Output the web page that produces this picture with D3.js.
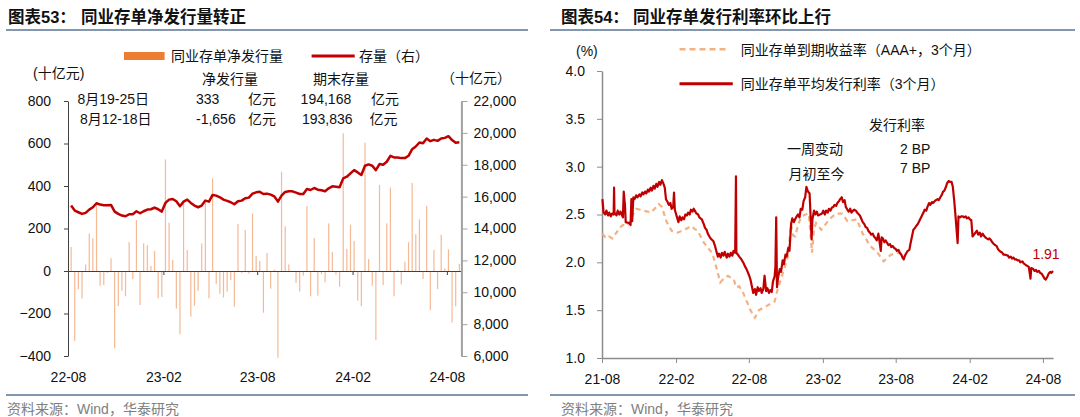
<!DOCTYPE html>
<html><head><meta charset="utf-8">
<script src="https://cdn.jsdelivr.net/npm/d3@7"></script>
<style>
html,body{margin:0;padding:0;background:#fff;}
svg{display:block;}
text{font-family:"Liberation Sans","Noto Sans CJK SC",sans-serif;}
</style></head><body>
<svg id="c" width="1080" height="417"></svg>
<script>
// ===== Left chart data (weekly, 十亿元) =====
const weekFirst = new Date(2022, 7, 7);   // first week-ending Sunday
const weekStop = new Date(2024, 7, 26);
const netIssuance = [
 113, -329, -85, -129, 31, 176, 154, 318, -69, -66,
 -9, 60, -364, -165, -93, -119, 136, -38, 240, -160,
 130, 121, 24, 94, -129, -122, 525, 227, 52, -177,
 -298, 318, 99, -215, -163, -93, 130, 323, -129, 436,
 -61, -107, -125, -97, -42, -168, 221, -9, 193, -13,
 271, 71,
 47, -196, 85, -83, 6, -408, 467, 210, 31, -5,
 -56, -97, -22, 306, -119, 155, -116, -14, -53, 224,
 89, -17, -74, 648, 104, 218, 141, -140, -166, 604,
 56, -69, -325, 405, -66, 224, 392, -119, 5, -63,
 44, 135, 414, 173, 243, -38, 307, -185, 100, -85,
 171, 12, 102, -242, -166, 33];
const outstanding = [
 15437, 15125, 15020, 14917, 14979, 15187, 15333, 15583, 15500, 15458,
 15458, 15479, 15062, 14917, 14812, 14770, 14896, 14896, 15083, 14958,
 15083, 15187, 15208, 15312, 15208, 15062, 15604, 15812, 15854, 15708,
 15395, 15687, 15812, 15604, 15437, 15333, 15437, 15750, 15687, 16104,
 16062, 15958, 15812, 15729, 15646, 15521, 15708, 15750, 15896, 15937,
 16187, 16270,
 16300, 16166, 16187, 16125, 16020, 15687, 16062, 16291, 16333, 16333,
 16250, 16166, 16166, 16479, 16416, 16541, 16437, 16395, 16333, 16520,
 16645, 16625, 16583, 17145, 17250, 17458, 17666, 17520, 17354, 17937,
 18020, 17937, 17666, 18041, 18000, 18187, 18562, 18458, 18458, 18416,
 18416, 18562, 18979, 19145, 19395, 19354, 19645, 19479, 19562, 19500,
 19645, 19687, 19792,
 19550, 19384, 19417];
const leftYTicks = [-400, -200, 0, 200, 400, 600, 800];
const rightYTicks = [6000, 8000, 10000, 12000, 14000, 16000, 18000, 20000, 22000];
const leftXTicks = ["2022-08-01", "2023-02-01", "2023-08-01", "2024-02-01", "2024-08-01"];

// ===== Right chart data (%) =====
const issueDates = ["2021-08-02","2021-08-05","2021-08-09","2021-08-12","2021-08-16","2021-08-19","2021-08-23","2021-08-26","2021-08-30","2021-08-31","2021-09-01","2021-09-06","2021-09-09","2021-09-13","2021-09-16","2021-09-22","2021-09-24","2021-09-27","2021-09-29","2021-10-08","2021-10-11","2021-10-13","2021-10-15","2021-10-18","2021-10-21","2021-10-25","2021-10-28","2021-11-02","2021-11-05","2021-11-09","2021-11-12","2021-11-16","2021-11-19","2021-11-23","2021-11-26","2021-11-30","2021-12-03","2021-12-07","2021-12-10","2021-12-14","2021-12-17","2021-12-21","2021-12-24","2021-12-28","2021-12-31","2022-01-04","2022-01-07","2022-01-11","2022-01-14","2022-01-18","2022-01-21","2022-01-25","2022-01-27","2022-01-29","2022-02-07","2022-02-10","2022-02-14","2022-02-17","2022-02-21","2022-02-24","2022-02-28","2022-03-03","2022-03-07","2022-03-10","2022-03-14","2022-03-17","2022-03-21","2022-03-24","2022-03-28","2022-03-31","2022-04-06","2022-04-11","2022-04-14","2022-04-18","2022-04-21","2022-04-25","2022-04-28","2022-05-05","2022-05-09","2022-05-12","2022-05-16","2022-05-19","2022-05-23","2022-05-26","2022-05-30","2022-06-02","2022-06-07","2022-06-10","2022-06-14","2022-06-17","2022-06-21","2022-06-24","2022-06-28","2022-06-30","2022-07-01","2022-07-05","2022-07-08","2022-07-12","2022-07-15","2022-07-19","2022-07-22","2022-07-26","2022-07-29","2022-08-02","2022-08-05","2022-08-09","2022-08-12","2022-08-16","2022-08-19","2022-08-23","2022-08-26","2022-08-30","2022-09-02","2022-09-06","2022-09-09","2022-09-13","2022-09-16","2022-09-20","2022-09-23","2022-09-27","2022-09-30","2022-10-04","2022-10-06","2022-10-08","2022-10-10","2022-10-13","2022-10-17","2022-10-20","2022-10-24","2022-10-27","2022-10-31","2022-11-03","2022-11-07","2022-11-10","2022-11-14","2022-11-17","2022-11-21","2022-11-24","2022-11-28","2022-12-01","2022-12-05","2022-12-08","2022-12-12","2022-12-15","2022-12-19","2022-12-22","2022-12-26","2022-12-30","2023-01-04","2023-01-06","2023-01-10","2023-01-13","2023-01-17","2023-01-20","2023-01-30","2023-02-02","2023-02-06","2023-02-09","2023-02-13","2023-02-16","2023-02-20","2023-02-23","2023-02-27","2023-03-02","2023-03-06","2023-03-09","2023-03-13","2023-03-16","2023-03-20","2023-03-23","2023-03-27","2023-03-30","2023-04-03","2023-04-06","2023-04-10","2023-04-13","2023-04-17","2023-04-20","2023-04-24","2023-04-27","2023-05-04","2023-05-08","2023-05-11","2023-05-15","2023-05-18","2023-05-22","2023-05-25","2023-05-29","2023-06-01","2023-06-05","2023-06-08","2023-06-12","2023-06-15","2023-06-19","2023-06-21","2023-06-25","2023-06-27","2023-06-30","2023-07-04","2023-07-07","2023-07-11","2023-07-14","2023-07-18","2023-07-21","2023-07-25","2023-07-28","2023-08-01","2023-08-04","2023-08-08","2023-08-11","2023-08-15","2023-08-18","2023-08-21","2023-08-24","2023-08-28","2023-08-31","2023-09-04","2023-09-07","2023-09-11","2023-09-14","2023-09-18","2023-09-21","2023-09-25","2023-10-09","2023-10-12","2023-10-16","2023-10-19","2023-10-23","2023-10-26","2023-10-30","2023-11-02","2023-11-06","2023-11-09","2023-11-13","2023-11-16","2023-11-20","2023-11-23","2023-11-27","2023-11-30","2023-12-04","2023-12-07","2023-12-11","2023-12-14","2023-12-18","2023-12-21","2023-12-25","2023-12-27","2024-01-02","2024-01-04","2024-01-08","2024-01-11","2024-01-15","2024-01-18","2024-01-22","2024-01-25","2024-01-29","2024-02-01","2024-02-05","2024-02-08","2024-02-19","2024-02-22","2024-02-26","2024-02-29","2024-03-04","2024-03-07","2024-03-11","2024-03-14","2024-03-18","2024-03-21","2024-03-25","2024-03-28","2024-04-01","2024-04-08","2024-04-11","2024-04-15","2024-04-18","2024-04-22","2024-04-25","2024-04-29","2024-05-06","2024-05-09","2024-05-13","2024-05-16","2024-05-20","2024-05-23","2024-05-27","2024-05-30","2024-06-03","2024-06-06","2024-06-11","2024-06-14","2024-06-17","2024-06-20","2024-06-24","2024-06-27","2024-07-01","2024-07-03","2024-07-08","2024-07-11","2024-07-15","2024-07-18","2024-07-22","2024-07-25","2024-07-29","2024-08-01","2024-08-05","2024-08-08","2024-08-12","2024-08-15","2024-08-19","2024-08-22","2024-08-26"];
const issueRates = [2.66,2.52,2.50,2.54,2.49,2.52,2.48,2.51,2.50,2.78,2.52,2.49,2.54,2.50,2.53,2.47,2.74,2.60,2.42,2.41,2.39,2.66,2.43,2.68,2.66,2.70,2.68,2.71,2.69,2.73,2.71,2.74,2.72,2.76,2.74,2.78,2.75,2.80,2.77,2.82,2.79,2.84,2.81,2.86,2.83,2.78,2.66,2.63,2.60,2.62,2.56,2.58,2.73,2.55,2.42,2.48,2.44,2.47,2.45,2.50,2.49,2.52,2.50,2.55,2.53,2.56,2.53,2.51,2.50,2.47,2.45,2.40,2.36,2.34,2.30,2.27,2.25,2.22,2.17,2.12,2.06,2.09,2.05,2.10,2.07,2.11,2.05,2.09,2.06,2.10,2.07,2.12,2.10,2.90,2.10,2.08,2.06,2.04,2.02,1.99,1.96,1.93,1.90,1.86,1.82,1.74,1.68,1.72,1.66,1.74,1.70,1.73,1.68,1.72,1.86,1.70,1.73,1.68,1.71,1.69,1.80,1.85,1.95,2.47,1.74,1.85,1.93,1.90,2.02,1.98,2.08,2.06,2.15,2.12,2.40,2.46,2.42,2.45,2.48,2.50,2.47,2.56,2.55,2.64,2.68,2.79,2.74,2.72,2.24,2.45,2.54,2.50,2.53,2.49,2.51,2.54,2.50,2.54,2.52,2.56,2.54,2.57,2.58,2.60,2.59,2.62,2.64,2.66,2.68,2.63,2.65,2.58,2.55,2.53,2.56,2.52,2.54,2.55,2.54,2.52,2.49,2.45,2.42,2.40,2.37,2.36,2.33,2.31,2.29,2.30,2.27,2.25,2.23,2.30,2.24,2.12,2.26,2.25,2.21,2.23,2.20,2.18,2.19,2.16,2.17,2.15,2.14,2.12,2.13,2.10,2.08,2.05,2.03,2.07,2.10,2.12,2.13,2.20,2.28,2.34,2.36,2.38,2.40,2.52,2.55,2.54,2.58,2.62,2.60,2.63,2.62,2.64,2.65,2.66,2.65,2.68,2.70,2.74,2.75,2.79,2.83,2.85,2.84,2.84,2.79,2.62,2.52,2.20,2.48,2.47,2.48,2.48,2.47,2.48,2.46,2.47,2.45,2.44,2.27,2.33,2.29,2.31,2.27,2.30,2.28,2.26,2.25,2.24,2.25,2.23,2.21,2.19,2.17,2.14,2.12,2.11,2.10,2.08,2.08,2.07,2.05,2.06,2.04,2.05,2.03,2.03,2.02,2.02,2.00,2.01,1.99,1.98,1.97,1.96,1.95,1.83,1.94,1.93,1.91,1.92,1.90,1.91,1.89,1.88,1.86,1.83,1.82,1.85,1.88,1.90,1.89,1.91];
const yieldDates = ["2021-08-02","2021-08-11","2021-08-19","2021-08-27","2021-09-04","2021-09-14","2021-09-22","2021-10-02","2021-10-09","2021-10-17","2021-10-25","2021-11-04","2021-11-12","2021-11-22","2021-11-30","2021-12-10","2021-12-20","2021-12-28","2022-01-08","2022-01-21","2022-02-05","2022-02-22","2022-03-11","2022-03-19","2022-03-27","2022-04-09","2022-04-21","2022-05-02","2022-05-12","2022-05-22","2022-06-02","2022-06-10","2022-06-20","2022-06-25","2022-06-30","2022-07-08","2022-07-18","2022-07-26","2022-08-05","2022-08-16","2022-08-26","2022-09-08","2022-09-21","2022-10-04","2022-10-11","2022-10-19","2022-10-29","2022-11-06","2022-11-14","2022-11-19","2022-11-24","2022-12-02","2022-12-10","2022-12-20","2022-12-28","2023-01-05","2023-01-10","2023-01-15","2023-01-28","2023-02-08","2023-02-17","2023-03-06","2023-03-21","2023-04-03","2023-04-16","2023-04-26","2023-05-11","2023-05-30","2023-06-17","2023-07-02","2023-07-12","2023-07-20","2023-08-07","2023-08-20"];
const yieldRates = [2.30,2.25,2.27,2.25,2.30,2.36,2.39,2.38,2.41,2.50,2.56,2.55,2.54,2.53,2.52,2.56,2.61,2.58,2.43,2.33,2.31,2.34,2.38,2.35,2.33,2.22,2.15,2.10,1.95,1.79,1.84,1.86,1.83,1.82,1.74,1.75,1.68,1.60,1.50,1.42,1.50,1.53,1.56,1.59,1.71,1.81,1.95,2.06,2.40,2.28,2.27,2.40,2.48,2.50,2.51,2.10,2.35,2.41,2.34,2.40,2.45,2.51,2.51,2.43,2.44,2.45,2.30,2.17,2.10,2.01,2.05,2.08,2.10,2.08];
const pctTicks = [1.0, 1.5, 2.0, 2.5, 3.0, 3.5, 4.0];
const rightXTicks = ["2021-08-01","2022-02-01","2022-08-01","2023-02-01","2023-08-01","2024-02-01","2024-08-01"];

// ===== drawing =====
const svg = d3.select("#c");
svg.append("rect").attr("width",1080).attr("height",417).attr("fill","#fff");
const parse = d3.timeParse("%Y-%m-%d");
const RED = "#c00000", ORANGE = "#ed7d31", RULE = "#8497b0";

function txt(x, y, s, opts = {}) {
  return svg.append("text").attr("x", x).attr("y", y).text(s)
    .attr("font-size", opts.size || 14)
    .attr("font-weight", opts.weight || "normal")
    .attr("fill", opts.fill || "#111")
    .attr("text-anchor", opts.anchor || "start");
}

// titles and rules
txt(8, 23, "图表53：", {size:16.5, weight:"bold"});
txt(81, 23, "同业存单净发行量转正", {size:16.5, weight:"bold"});
txt(561, 23, "图表54：", {size:16.5, weight:"bold"});
txt(633, 23, "同业存单发行利率环比上行", {size:16.5, weight:"bold"});
[[6,528],[550,1075]].forEach(([a,b]) => {
  svg.append("line").attr("x1",a).attr("x2",b).attr("y1",30).attr("y2",30).attr("stroke",RULE).attr("stroke-width",2);
  svg.append("line").attr("x1",a).attr("x2",b).attr("y1",395).attr("y2",395).attr("stroke",RULE).attr("stroke-width",2);
});
txt(7, 414, "资料来源：Wind，华泰研究", {fill:"#808080"});
txt(561, 414, "资料来源：Wind，华泰研究", {fill:"#808080"});

// ---------- Left chart ----------
const weeks = d3.timeWeek.range(weekFirst, weekStop);
const xL = d3.scaleTime().domain([new Date(2022,7,1), new Date(2024,7,29)]).range([68, 461.4]);
const yL = d3.scaleLinear().domain([-400, 800]).range([356, 101]);
const yR = d3.scaleLinear().domain([6000, 22000]).range([356, 101]);

svg.append("g").selectAll("rect").data(netIssuance).join("rect")
  .attr("x", (d,i) => xL(weeks[i]) - 0.6)
  .attr("width", 1.2)
  .attr("y", d => yL(Math.max(0, d)))
  .attr("height", d => Math.abs(yL(d) - yL(0)))
  .attr("fill", "#f5b996");

function styleAxis(g, domainColor, domainWidth) {
  g.selectAll("text").attr("font-size", 14).attr("fill", "#111")
    .attr("font-family", '"Liberation Sans", sans-serif');
  g.select(".domain").attr("stroke", domainColor).attr("stroke-width", domainWidth);
  g.selectAll(".tick line").attr("stroke", domainColor);
}

const gxL = svg.append("g").attr("transform", `translate(0,${yL(0)})`)
  .call(d3.axisBottom(xL).tickValues(leftXTicks.map(parse)).tickFormat(d3.timeFormat("%y-%m"))
    .tickSize(4).tickPadding(97).tickSizeOuter(0));
styleAxis(gxL, "#404040", 1);

const gyL = svg.append("g").attr("transform", "translate(68,0)")
  .call(d3.axisLeft(yL).tickValues(leftYTicks).tickSize(4).tickPadding(13).tickSizeOuter(0));
styleAxis(gyL, "#404040", 1);

const gyR = svg.append("g").attr("transform", "translate(461.4,0)")
  .call(d3.axisRight(yR).tickValues(rightYTicks).tickFormat(d3.format(",")).tickSize(6).tickPadding(6).tickSizeOuter(0));
styleAxis(gyR, "#a0a0a0", 2);

svg.append("path").datum(outstanding)
  .attr("d", d3.line().x((d,i) => xL(weeks[i])).y(d => yR(d)))
  .attr("fill", "none").attr("stroke", RED).attr("stroke-width", 2.5).attr("stroke-linejoin","round");

// legend left
svg.append("rect").attr("x",124).attr("y",52).attr("width",40.6).attr("height",8).attr("fill",ORANGE);
txt(171, 61.3, "同业存单净发行量");
svg.append("line").attr("x1",311.6).attr("x2",354.7).attr("y1",56).attr("y2",56).attr("stroke",RED).attr("stroke-width",3);
txt(359, 61.3, "存量（右）");

// annotations left
txt(33, 77.5, "(十亿元)");
txt(441, 82.5, "（十亿元）");
txt(202, 83.7, "净发行量");
txt(313, 83.7, "期末存量");
txt(77.5, 104.3, "8月19-25日");
txt(196, 104.3, "333");
txt(248, 104.3, "亿元");
txt(300.6, 104.3, "194,168");
txt(371, 104.3, "亿元");
txt(80, 124, "8月12-18日");
txt(196, 124, "-1,656");
txt(248, 124, "亿元");
txt(302, 124, "193,836");
txt(369.5, 124, "亿元");

// ---------- Right chart ----------
const xP = d3.scaleTime().domain([new Date(2021,7,1), new Date(2024,7,26)]).range([602, 1053]);
const yP = d3.scaleLinear().domain([1, 4]).range([358, 71]);

const gxP = svg.append("g").attr("transform", `translate(0,${yP(1)})`)
  .call(d3.axisBottom(xP).tickValues(rightXTicks.map(parse)).tickFormat(d3.timeFormat("%y-%m"))
    .tickSize(5).tickPadding(10.8).tickSizeOuter(0));
styleAxis(gxP, "#8c8c8c", 1.5);

const gyP = svg.append("g").attr("transform", "translate(602,0)")
  .call(d3.axisLeft(yP).tickValues(pctTicks).tickFormat(d3.format(".1f")).tickSize(5).tickPadding(12).tickSizeOuter(0));
styleAxis(gyP, "#8c8c8c", 1.5);

const yieldPts = yieldDates.map((d,i) => [parse(d), yieldRates[i]]);
const issuePts = issueDates.map((d,i) => [parse(d), issueRates[i]]);
const lineP = d3.line().x(d => xP(d[0])).y(d => yP(d[1]));
svg.append("path").datum(yieldPts).attr("d", lineP)
  .attr("fill","none").attr("stroke","#f4b183").attr("stroke-width",2.2).attr("stroke-dasharray","5,4");
svg.append("path").datum(issuePts).attr("d", lineP)
  .attr("fill","none").attr("stroke",RED).attr("stroke-width",2.2).attr("stroke-linejoin","round");

// legend right
txt(576, 56, "(%)");
svg.append("line").attr("x1",679.5).attr("x2",729.4).attr("y1",49.2).attr("y2",49.2)
  .attr("stroke","#f4b183").attr("stroke-width",2.5).attr("stroke-dasharray","6,4");
txt(740.8, 54.5, "同业存单到期收益率（AAA+，3个月）");
svg.append("line").attr("x1",679.5).attr("x2",732.8).attr("y1",83.7).attr("y2",83.7)
  .attr("stroke",RED).attr("stroke-width",3);
txt(740.8, 89, "同业存单平均发行利率（3个月）");

// annotations right
txt(869, 130, "发行利率");
txt(787, 153.5, "一周变动");
txt(900, 153.5, "2 BP");
txt(788.6, 178.6, "月初至今");
txt(900, 173, "7 BP");
txt(1032.4, 259, "1.91", {fill: RED});
</script>
</body></html>
